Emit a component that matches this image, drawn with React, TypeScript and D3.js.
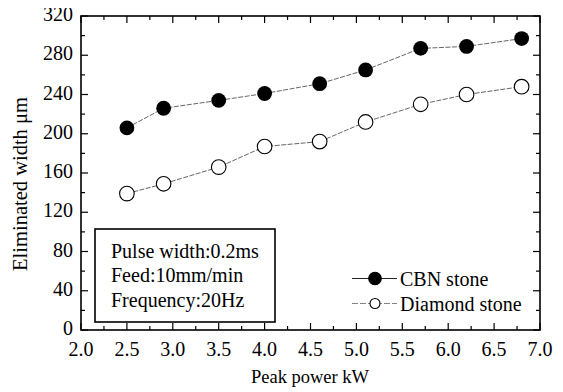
import React from "react";
import * as d3 from "d3";

const power = [2.5, 2.9, 3.5, 4.0, 4.6, 5.1, 5.7, 6.2, 6.8];
const cbnWidth = [206, 226, 234, 241, 251, 265, 287, 289, 297];
const diamondWidth = [139, 149, 166, 187, 192, 212, 230, 240, 248];
const xTicks = [2.0, 2.5, 3.0, 3.5, 4.0, 4.5, 5.0, 5.5, 6.0, 6.5, 7.0];
const yTicks = [0, 40, 80, 120, 160, 200, 240, 280, 320];
const noteLines = ["Pulse width:0.2ms", "Feed:10mm/min", "Frequency:20Hz"];
const seriesNames = ["CBN stone", "Diamond stone"];

const W = 563;
const H = 392;
const left = 81;
const right = 540;
const top = 16;
const bottom = 330;
const FONT = "Liberation Serif";

export default function App() {
  const x = d3.scaleLinear().domain([2, 7]).range([left, right]);
  const y = d3.scaleLinear().domain([0, 320]).range([bottom, top]);
  const line = d3
    .line<[number, number]>()
    .x((d) => x(d[0]))
    .y((d) => y(d[1]));
  const cbn = power.map((p, i) => [p, cbnWidth[i]] as [number, number]);
  const dia = power.map((p, i) => [p, diamondWidth[i]] as [number, number]);
  const xMinor = d3.range(2, 7.001, 0.25);
  const yMinor = d3.range(0, 320.001, 20);
  const major = 7;
  const minor = 4;

  return (
    <svg width={W} height={H} style={{ display: "block", margin: "-8px 0 0 -8px", background: "#fff" }}>
      <g fontFamily={FONT} fill="#000">
        {/* frame */}
        <rect
          x={left}
          y={top}
          width={right - left}
          height={bottom - top}
          fill="none"
          stroke="#000"
          strokeWidth={1.6}
        />
        {/* x ticks, bottom and top, inward */}
        {xMinor.map((v, i) => {
          const isMajor = Math.abs(v * 2 - Math.round(v * 2)) < 1e-6;
          const len = isMajor ? major : minor;
          return (
            <g key={"xt" + i} stroke="#000" strokeWidth={1.2}>
              <line x1={x(v)} x2={x(v)} y1={bottom} y2={bottom - len} />
              <line x1={x(v)} x2={x(v)} y1={top} y2={top + len} />
            </g>
          );
        })}
        {/* y ticks, left and right, inward */}
        {yMinor.map((v, i) => {
          const isMajor = v % 40 === 0;
          const len = isMajor ? major : minor;
          return (
            <g key={"yt" + i} stroke="#000" strokeWidth={1.2}>
              <line x1={left} x2={left + len} y1={y(v)} y2={y(v)} />
              <line x1={right} x2={right - len} y1={y(v)} y2={y(v)} />
            </g>
          );
        })}
        {xTicks.map((v) => (
          <text key={"xl" + v} x={x(v)} y={356} textAnchor="middle" fontSize={20} fontFamily={FONT}>
            {v.toFixed(1)}
          </text>
        ))}
        {yTicks.map((v) => (
          <text key={"yl" + v} x={left - 8} y={y(v) + 5} textAnchor="end" fontSize={20} fontFamily={FONT}>
            {v}
          </text>
        ))}
        <text x={310} y={383} textAnchor="middle" fontSize={18.5} fontFamily={FONT}>
          Peak power kW
        </text>
        <text
          transform={`translate(27, 184) rotate(-90)`}
          textAnchor="middle"
          fontSize={20.5}
          fontFamily={FONT}
        >
          Eliminated width μm
        </text>

        {/* series */}
        <path d={line(cbn) || ""} fill="none" stroke="#555" strokeWidth={0.9} strokeDasharray="5 1.5" />
        <path d={line(dia) || ""} fill="none" stroke="#555" strokeWidth={0.9} strokeDasharray="5 1.5" />
        {cbn.map((d, i) => (
          <circle key={"c" + i} cx={x(d[0])} cy={y(d[1])} r={7.4} fill="#000" />
        ))}
        {dia.map((d, i) => (
          <circle
            key={"d" + i}
            cx={x(d[0])}
            cy={y(d[1])}
            r={7.3}
            fill="#fff"
            stroke="#000"
            strokeWidth={1.1}
          />
        ))}

        {/* note box */}
        <rect x={95} y={229} width={180} height={93} fill="#fff" stroke="#000" strokeWidth={1.6} />
        {noteLines.map((t, i) => (
          <text key={"n" + i} x={111} y={257.5 + i * 24.5} fontSize={20} fontFamily={FONT}>
            {t}
          </text>
        ))}

        {/* legend */}
        {seriesNames.map((name, i) => {
          const ly = 278.5 + i * 25;
          return (
            <g key={"lg" + i}>
              <line
                x1={352}
                x2={397}
                y1={ly}
                y2={ly}
                stroke={i === 0 ? "#222" : "#777"}
                strokeWidth={i === 0 ? 1 : 0.9}
                strokeDasharray={i === 0 ? undefined : "6 2"}
              />
              <circle
                cx={375}
                cy={ly}
                r={i === 0 ? 6.3 : 5}
                fill={i === 0 ? "#000" : "#fff"}
                stroke="#000"
                strokeWidth={1.1}
              />
              <text x={400} y={ly + 7.5} fontSize={20} fontFamily={FONT}>
                {name}
              </text>
            </g>
          );
        })}
      </g>
    </svg>
  );
}
